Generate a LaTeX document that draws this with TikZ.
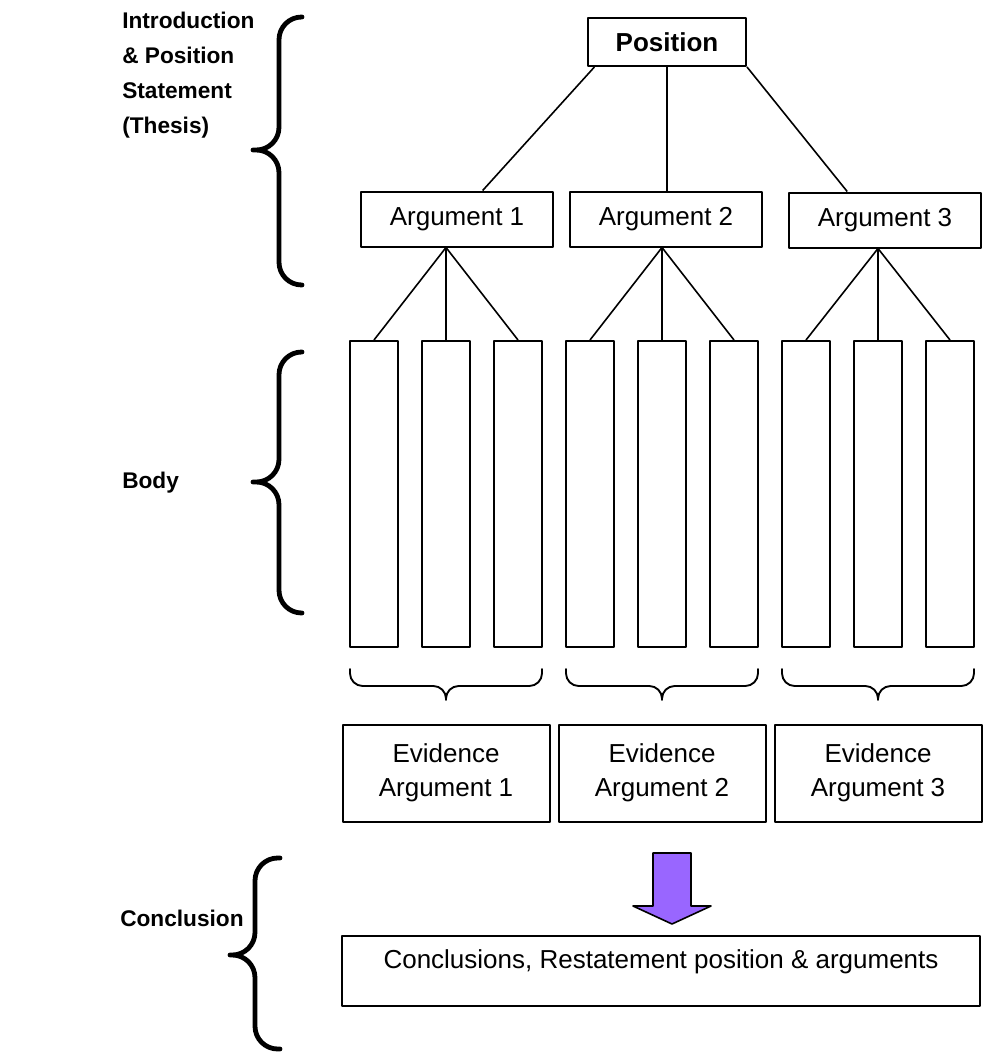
\documentclass[tikz,border=0pt]{standalone}
\usepackage{fontspec}
\setmainfont{Liberation Sans}
\usetikzlibrary{positioning}
\definecolor{arrowpurple}{HTML}{9966FF}

\begin{document}
\begin{tikzpicture}[x=0.75pt,y=-0.75pt,line join=round,
    box/.style={draw,line width=1.5pt,inner sep=0pt,align=center,font=\fontsize{19.5}{25.5}\selectfont},
    pos box/.style={box,minimum width=118.5pt,minimum height=36pt,font=\fontsize{19.5}{25.5}\selectfont\bfseries},
    arg box/.style={box,minimum width=144pt,minimum height=41.25pt},
    col box/.style={draw,line width=1.5pt,inner sep=0pt,minimum width=36pt,minimum height=229.5pt},
    ev box/.style={box,minimum width=155.25pt,minimum height=72.75pt},
    side label/.style={align=left,anchor=west,inner sep=0pt,font=\fontsize{17}{26.25}\selectfont\bfseries},
    link/.style={line width=1.2pt},
    big brace/.style={line width=3.6pt,line cap=round,rounded corners=17pt},
    small brace/.style={line width=1.4pt,line cap=round,rounded corners=9.5pt}]
    \useasboundingbox (0,0) rectangle (1006,1052);

    % section labels
    \node[side label] (intro) at (122,75)  {Introduction\\\& Position\\Statement\\(Thesis)};
    \node[side label] (body)  at (122,483) {Body};
    \node[side label] (concl) at (120,918) {Conclusion};

    % position and the three arguments
    \node[pos box] (pos)  at (667,42)  {Position};
    \node[arg box] (arg1) at (457,219) {Argument 1};
    \node[arg box] (arg2) at (666,219) {Argument 2};
    \node[arg box] (arg3) at (885,220) {Argument 3};

    % evidence columns
    \node[col box] (c11) at (374,494) {};
    \node[col box] (c12) at (446,494) {};
    \node[col box] (c13) at (518,494) {};
    \node[col box] (c21) at (590,494) {};
    \node[col box] (c22) at (662,494) {};
    \node[col box] (c23) at (734,494) {};
    \node[col box] (c31) at (806,494) {};
    \node[col box] (c32) at (878,494) {};
    \node[col box] (c33) at (950,494) {};

    \node[ev box] (ev1) at (446,773) {Evidence\\Argument 1};
    \node[ev box] (ev2) at (662,773) {Evidence\\Argument 2};
    \node[ev box] (ev3) at (878,773) {Evidence\\Argument 3};

    \node[box,minimum width=478.5pt,minimum height=52.5pt,font=\fontsize{19.5}{18}\selectfont]
        (conc) at (661,971) {Conclusions, Restatement position \& arguments\\\mbox{}};

    \coordinate (a1) at (arg1.south -| c12.north);
    \coordinate (a2) at (arg2.south -| c22.north);
    \coordinate (a3) at (arg3.south -| c32.north);

    \path[link]
        (pos.199)       edge (arg1.48)
        (pos.south)     edge (pos.south |- arg2.north)
        (pos.south east) edge (arg3.143)
        (a1) edge (c11.north)
             edge (c12.north)
             edge (c13.north)
        (a2) edge (c21.north)
             edge (c22.north)
             edge (c23.north)
        (a3) edge (c31.north)
             edge (c32.north)
             edge (c33.north);

    % braces
    \draw[big brace] (302,17) -- (279,17) -- (279,150) -- (253,150)
                     (253,150) -- (279,150) -- (279,285) -- (302,285);
    \draw[big brace] (302,352) -- (279,352) -- (279,482) -- (253,482)
                     (253,482) -- (279,482) -- (279,613) -- (302,613);
    \draw[big brace] (280,858) -- (255,858) -- (255,955) -- (230,955)
                     (230,955) -- (255,955) -- (255,1049) -- (280,1049);

    \draw[small brace] (350,669) -- (350,686) -- (446,686) -- (446,700)
                       (446,700) -- (446,686) -- (542,686) -- (542,669);
    \draw[small brace] (566,669) -- (566,686) -- (662,686) -- (662,700)
                       (662,700) -- (662,686) -- (758,686) -- (758,669);
    \draw[small brace] (782,669) -- (782,686) -- (878,686) -- (878,700)
                       (878,700) -- (878,686) -- (974,686) -- (974,669);

    % block arrow down to the conclusion
    \draw[line width=1.2pt,fill=arrowpurple] (653,853) -- (691,853) -- (691,906) -- (711,906)
        -- (672,924) -- (633,906) -- (653,906) -- cycle;
\end{tikzpicture}
\end{document}
